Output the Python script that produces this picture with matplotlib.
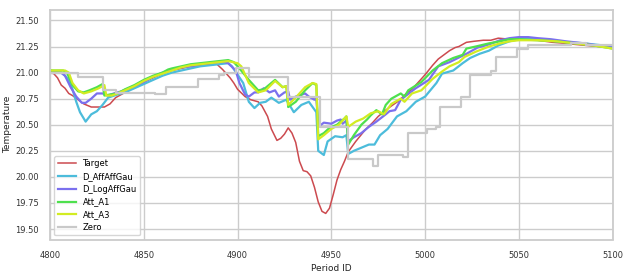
import matplotlib
matplotlib.use("Agg")
import matplotlib.pyplot as plt
import numpy as np

# series
target_x = [4800, 4802, 4804, 4806, 4808, 4810, 4812, 4815, 4818, 4822,
            4826, 4829, 4832, 4835, 4840, 4845, 4850, 4855, 4860, 4865,
            4870, 4875, 4880, 4885, 4889, 4892, 4894, 4896, 4898, 4900,
            4904, 4907, 4911, 4913, 4916, 4918, 4921, 4923, 4925, 4927,
            4929, 4931, 4933, 4935, 4937, 4939, 4941, 4943, 4945, 4947,
            4949, 4951, 4953, 4955, 4957, 4959, 4963, 4968, 4972, 4975,
            4979, 4982, 4986, 4990, 4993, 4997, 5000, 5004, 5007, 5010,
            5013, 5016, 5018, 5022, 5026, 5031, 5035, 5039, 5045, 5050,
            5055, 5060, 5068, 5075, 5080, 5086, 5093, 5100]
target_y = [21.00, 20.99, 20.95, 20.88, 20.85, 20.80, 20.78, 20.74, 20.70, 20.67,
            20.67, 20.67, 20.70, 20.76, 20.81, 20.86, 20.91, 20.95, 20.99, 21.02,
            21.04, 21.06, 21.07, 21.08, 21.08, 21.03, 20.99, 20.95, 20.90, 20.84,
            20.77, 20.74, 20.72, 20.68, 20.58, 20.46, 20.35, 20.37, 20.41, 20.47,
            20.42, 20.33, 20.15, 20.06, 20.05, 20.01, 19.90, 19.76, 19.67, 19.65,
            19.70, 19.83, 19.97, 20.07, 20.15, 20.24, 20.34, 20.45, 20.52, 20.58,
            20.64, 20.68, 20.73, 20.80, 20.84, 20.92, 20.98, 21.07, 21.13, 21.17,
            21.21, 21.24, 21.25, 21.29, 21.30, 21.31, 21.31, 21.33, 21.32, 21.32,
            21.31, 21.31, 21.29, 21.28, 21.27, 21.26, 21.25, 21.24]

affaff_x = [4800, 4803, 4806, 4808, 4810, 4812, 4814, 4816, 4819, 4822,
            4825, 4828, 4831, 4836, 4840, 4845, 4850, 4855, 4860, 4865,
            4870, 4875, 4880, 4885, 4890, 4895, 4897, 4900, 4903, 4906,
            4909, 4912, 4915, 4918, 4922, 4926, 4930, 4934, 4938, 4942,
            4943, 4946, 4948, 4952, 4956, 4958, 4959, 4962, 4966, 4970,
            4973, 4976, 4980, 4985, 4990, 4995, 5000, 5006, 5009, 5015,
            5020, 5024, 5029, 5034, 5039, 5045, 5050, 5060, 5070, 5085,
            5100]
affaff_y = [21.02, 21.01, 21.00, 20.97, 20.93, 20.84, 20.72, 20.62, 20.53, 20.60,
            20.63, 20.69, 20.76, 20.79, 20.81, 20.85, 20.89, 20.93, 20.97, 21.00,
            21.02, 21.04, 21.06, 21.07, 21.08, 21.09, 21.06, 20.98, 20.90, 20.72,
            20.66, 20.71, 20.72, 20.76, 20.71, 20.74, 20.62, 20.69, 20.72, 20.62,
            20.25, 20.21, 20.34, 20.39, 20.38, 20.40, 20.22, 20.25, 20.28, 20.31,
            20.31, 20.40, 20.46, 20.58, 20.63, 20.72, 20.77, 20.90, 20.99, 21.02,
            21.09, 21.14, 21.18, 21.21, 21.26, 21.30, 21.32, 21.32, 21.30, 21.28,
            21.25]

logaff_x = [4800, 4806, 4808, 4811, 4814, 4817, 4819, 4822, 4825, 4828,
            4831, 4834, 4838, 4842, 4846, 4850, 4855, 4860, 4865, 4870,
            4875, 4880, 4885, 4890, 4893, 4895, 4899, 4901, 4904, 4906,
            4909, 4911, 4914, 4917, 4920, 4922, 4925, 4927, 4928, 4931,
            4936, 4938, 4941, 4942, 4943, 4946, 4950, 4953, 4955, 4956,
            4958, 4959, 4962, 4966, 4970, 4974, 4979, 4981, 4984, 4987,
            4995, 5002, 5007, 5013, 5022, 5028, 5034, 5040, 5045, 5050,
            5055, 5060, 5067, 5075, 5085, 5092, 5100]
logaff_y = [21.01, 21.00, 20.97, 20.86, 20.77, 20.71, 20.71, 20.75, 20.80, 20.80,
            20.78, 20.80, 20.82, 20.85, 20.88, 20.91, 20.96, 21.00, 21.03, 21.05,
            21.06, 21.08, 21.09, 21.10, 21.10, 21.09, 21.02, 20.90, 20.79, 20.77,
            20.81, 20.81, 20.85, 20.81, 20.83, 20.77, 20.81, 20.82, 20.74, 20.77,
            20.80, 20.77, 20.74, 20.76, 20.48, 20.52, 20.51, 20.54, 20.55, 20.51,
            20.54, 20.34, 20.38, 20.42, 20.48, 20.53, 20.60, 20.63, 20.64, 20.74,
            20.85, 20.93, 21.06, 21.10, 21.18, 21.24, 21.27, 21.31, 21.33, 21.34,
            21.34, 21.33, 21.32, 21.30, 21.28, 21.26, 21.24]

a1_x = [4800, 4807, 4809, 4812, 4815, 4818, 4821, 4825, 4828, 4829,
        4832, 4836, 4840, 4845, 4850, 4855, 4860, 4863, 4865, 4870,
        4875, 4880, 4885, 4890, 4895, 4898, 4901, 4906, 4911, 4914,
        4920, 4924, 4926, 4927, 4931, 4936, 4940, 4942, 4943, 4946,
        4949, 4953, 4957, 4958, 4959, 4962, 4966, 4969, 4971, 4974,
        4977, 4979, 4982, 4987, 4989, 4991, 4998, 5004, 5009, 5015,
        5020, 5022, 5027, 5034, 5040, 5045, 5050, 5060, 5070, 5080,
        5090, 5100]
a1_y = [21.02, 21.02, 21.00, 20.88, 20.82, 20.81, 20.83, 20.86, 20.89, 20.78,
        20.79, 20.80, 20.84, 20.88, 20.93, 20.97, 21.00, 21.03, 21.04, 21.06,
        21.08, 21.09, 21.10, 21.11, 21.12, 21.10, 21.04, 20.93, 20.83, 20.84,
        20.93, 20.86, 20.87, 20.67, 20.72, 20.83, 20.90, 20.88, 20.39, 20.42,
        20.47, 20.50, 20.56, 20.58, 20.31, 20.40, 20.50, 20.55, 20.59, 20.64,
        20.60, 20.69, 20.75, 20.80, 20.77, 20.83, 20.91, 21.02, 21.09, 21.14,
        21.17, 21.23, 21.25, 21.28, 21.30, 21.32, 21.32, 21.31, 21.30, 21.28,
        21.26, 21.23]

a3_x = [4800, 4808, 4810, 4812, 4815, 4818, 4822, 4826, 4829, 4830,
        4833, 4836, 4840, 4845, 4850, 4855, 4860, 4865, 4870, 4875,
        4880, 4885, 4890, 4895, 4900, 4902, 4906, 4911, 4915, 4920,
        4924, 4926, 4927, 4931, 4936, 4940, 4942, 4943, 4946, 4950,
        4954, 4958, 4959, 4963, 4967, 4971, 4975, 4978, 4982, 4987,
        4989, 4993, 4998, 5004, 5009, 5013, 5018, 5021, 5027, 5034,
        5040, 5045, 5050, 5060, 5070, 5080, 5090, 5100]
a3_y = [21.02, 21.02, 21.00, 20.90, 20.83, 20.80, 20.82, 20.85, 20.88, 20.78,
        20.78, 20.80, 20.83, 20.87, 20.92, 20.96, 20.99, 21.02, 21.05, 21.07,
        21.08, 21.09, 21.10, 21.11, 21.09, 21.06, 20.90, 20.81, 20.83, 20.92,
        20.86, 20.87, 20.69, 20.76, 20.86, 20.90, 20.89, 20.36, 20.40, 20.46,
        20.50, 20.58, 20.48, 20.53, 20.56, 20.61, 20.63, 20.60, 20.70, 20.75,
        20.72, 20.80, 20.83, 20.94, 21.01, 21.06, 21.10, 21.15, 21.20, 21.25,
        21.28, 21.30, 21.31, 21.31, 21.30, 21.28, 21.26, 21.23]

# Zero baseline is a step function (value holds until the next x)
zero_x = [4800, 4815, 4828, 4835, 4856, 4862, 4879, 4890, 4893, 4899,
          4906, 4927, 4944, 4959, 4972, 4975, 4988, 4991, 5001, 5006,
          5008, 5019, 5024, 5035, 5038, 5049, 5055, 5078, 5086, 5100]
zero_y = [21.00, 20.96, 20.83, 20.80, 20.79, 20.86, 20.94, 20.98, 21.00, 21.04,
          20.96, 20.77, 20.48, 20.17, 20.10, 20.21, 20.19, 20.42, 20.46, 20.48,
          20.67, 20.77, 20.98, 21.02, 21.15, 21.23, 21.26, 21.28, 21.26, 21.26]

yticks = np.arange(19.5, 21.51, 0.25)
xticks = [4800, 4850, 4900, 4950, 5000, 5050, 5100]

fig = plt.figure(figsize=(6.3, 2.79), dpi=100)
ax = fig.add_axes([50 / 630, 1 - 239.5 / 279, 562.7 / 630, 229.5 / 279])

ax.plot(target_x, target_y, color="#cc4a4f", lw=1.1, label="Target")
ax.plot(affaff_x, affaff_y, color="#4cbcdb", lw=1.6, label="D_AffAffGau")
ax.plot(logaff_x, logaff_y, color="#7b70ee", lw=1.6, label="D_LogAffGau")
ax.plot(a1_x, a1_y, color="#4ee04e", lw=1.6, label="Att_A1")
ax.plot(a3_x, a3_y, color="#d2ec22", lw=1.6, label="Att_A3")
ax.plot(zero_x, zero_y, color="#c9c9c9", lw=1.6, drawstyle="steps-post", label="Zero")

ax.set_xlim(4800, 5100)
ax.set_ylim(19.4, 21.6)
ax.set_xticks(xticks)
ax.set_yticks(yticks)
ax.set_yticklabels(["%.2f" % v for v in yticks])
ax.grid(True, color="#cccccc", lw=1.0)
ax.set_axisbelow(True)
for s in ax.spines.values():
    s.set_color("#cccccc")
    s.set_linewidth(1.3)
ax.tick_params(length=0, labelsize=6, colors="#333333", pad=8)
ax.set_xlabel("Period ID", fontsize=6.5, color="#222222", labelpad=3)
ax.set_ylabel("Temperature", fontsize=6.5, color="#222222", labelpad=2)

ax.legend(loc="lower left", fontsize=6, frameon=True, edgecolor="#cccccc",
          handlelength=2.2, borderaxespad=0.5, labelspacing=0.45)

fig.savefig("out.png", dpi=100)
